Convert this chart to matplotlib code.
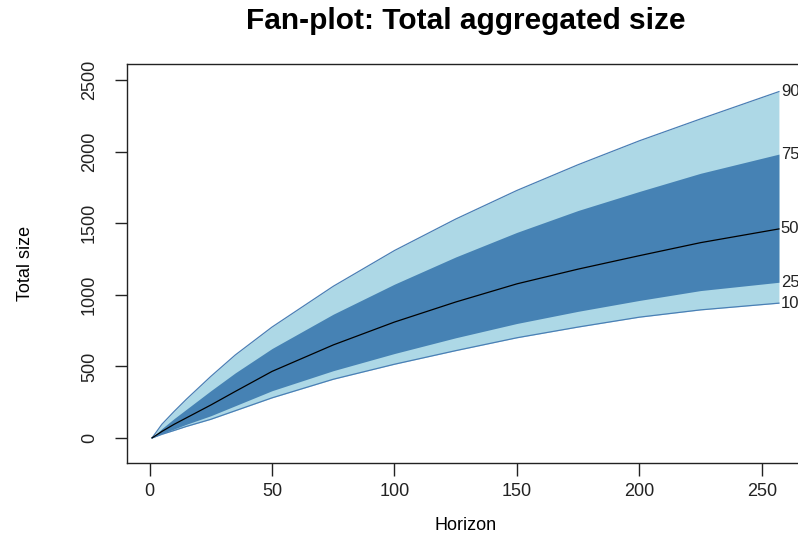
import matplotlib
matplotlib.use("Agg")
import matplotlib.pyplot as plt

plt.rcParams["font.family"] = ["Liberation Sans", "DejaVu Sans"]

# horizon points
horizon = [1, 5, 10, 15, 25, 35, 50, 75, 100, 125, 150, 175, 200, 225, 257]

q10 = [0, 25, 52, 80, 130, 190, 280, 410, 515, 610, 700, 775, 844, 895, 942]
q25 = [0, 30, 62, 95, 155, 225, 330, 470, 590, 700, 800, 885, 961, 1030, 1088]
q50 = [0, 45, 95, 140, 230, 325, 465, 650, 810, 950, 1077, 1180, 1274, 1365, 1461]
q75 = [0, 65, 135, 200, 330, 455, 625, 865, 1075, 1265, 1437, 1590, 1723, 1850, 1984]
q90 = [0, 95, 185, 270, 430, 580, 775, 1060, 1310, 1530, 1730, 1910, 2077, 2230, 2421]

fan_labels = ["90", "75", "50", "25", "10"]
x_ticks = [0, 50, 100, 150, 200, 250]
y_ticks = [0, 500, 1000, 1500, 2000, 2500]

fig = plt.figure(figsize=(7.98, 5.34), dpi=100)
ax = fig.add_axes([127 / 798, (534 - 462.5) / 534, (804 - 127) / 798, (462.5 - 64) / 534])

ax.fill_between(horizon, q10, q90, color="lightblue", lw=0)
ax.fill_between(horizon, q25, q75, color="steelblue", lw=0)
ax.plot(horizon, q90, color="#4a7fb5", lw=0.9)
ax.plot(horizon, q10, color="#4a7fb5", lw=0.9)
ax.plot(horizon, q50, color="black", lw=0.9)

# percentile labels at the right end of the fan
ends = [q90[-1], q75[-1], q50[-1], q25[-1], q10[-1]]
for lab, v in zip(fan_labels, ends):
    ax.text(horizon[-1] + 0.8, v, lab, fontsize=12, va="center", ha="left",
            color="#222222", clip_on=False)

ax.set_xlim(-9.24, 267.24)
ax.set_ylim(-172, 2614)
ax.set_xticks(x_ticks)
ax.set_yticks(y_ticks)
ax.set_yticklabels([str(t) for t in y_ticks], rotation=90, va="center")

for s in ax.spines.values():
    s.set_linewidth(1.0)
    s.set_color("#222222")
ax.tick_params(axis="both", direction="out", length=9, width=1.0,
               labelsize=13, colors="#222222")
ax.tick_params(axis="x", pad=6)
ax.tick_params(axis="y", pad=12)

ax.set_title("Fan-plot: Total aggregated size", fontsize=21.5, fontweight="bold",
             pad=25)
ax.set_xlabel("Horizon", fontsize=13, labelpad=12)
ax.set_ylabel("Total size", fontsize=13, labelpad=34)

fig.savefig("out.png", dpi=100)
